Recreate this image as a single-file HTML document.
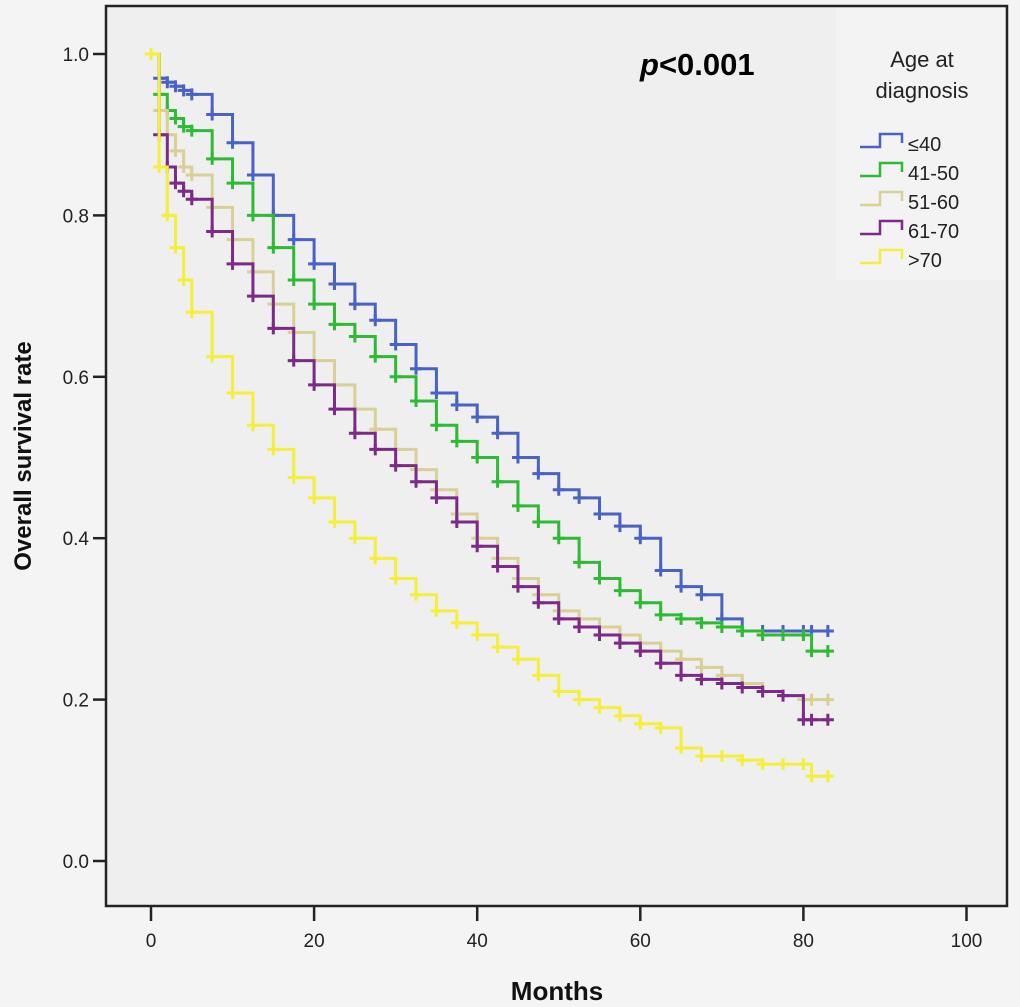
<!DOCTYPE html>
<html><head><meta charset="utf-8"><style>
html,body{margin:0;padding:0;background:#f4f4f4;}
svg{display:block;font-family:"Liberation Sans",sans-serif;}
</style></head><body>
<svg id="chart" width="1020" height="1007" viewBox="0 0 1020 1007">
<rect x="106" y="6" width="901" height="900" fill="#efefef" stroke="#222" stroke-width="2.5"/>
<rect x="836" y="8" width="169" height="272" fill="#f3f3f3"/>
<g id="axes"></g>
<g id="series"></g>
<text x="640" y="75" font-size="31" font-weight="bold" fill="#000"><tspan font-style="italic">p</tspan>&lt;0.001</text>
<text x="922" y="67" font-size="22" text-anchor="middle" fill="#222">Age at</text>
<text x="922" y="98" font-size="22" text-anchor="middle" fill="#222">diagnosis</text>
<g id="legend"></g>
<text x="557" y="1000" font-size="26" font-weight="bold" text-anchor="middle" fill="#111">Months</text>
<text transform="translate(31,456) rotate(-90)" font-size="24" font-weight="bold" text-anchor="middle" fill="#111">Overall survival rate</text>
</svg>
<script>
const months=[0,1,2,3,4,5,7.5,10,12.5,15,17.5,20,22.5,25,27.5,30,32.5,35,37.5,40,42.5,45,47.5,50,52.5,55,57.5,60,62.5,65,67.5,70,72.5,75,77.5,80,81,83];
const s40=[1,.97,.965,.96,.955,.95,.925,.89,.85,.80,.77,.74,.715,.69,.67,.64,.61,.58,.565,.55,.53,.50,.48,.46,.45,.43,.415,.40,.36,.34,.33,.30,.285,.285,.285,.285,.285,.285];
const s4150=[1,.95,.93,.92,.91,.905,.87,.84,.80,.76,.72,.69,.665,.65,.625,.60,.57,.54,.52,.50,.47,.44,.42,.40,.37,.35,.335,.32,.305,.30,.295,.29,.285,.28,.28,.28,.26,.26];
const s5160=[1,.93,.90,.88,.86,.85,.81,.77,.73,.69,.655,.62,.59,.56,.535,.51,.485,.46,.43,.40,.375,.35,.33,.31,.30,.29,.28,.27,.26,.25,.24,.23,.22,.21,.205,.20,.20,.20];
const s6170=[1,.90,.86,.84,.83,.82,.78,.74,.70,.66,.62,.59,.56,.53,.51,.49,.47,.45,.42,.39,.365,.34,.32,.30,.29,.28,.27,.26,.245,.23,.225,.22,.215,.21,.205,.175,.175,.175];
const s70=[1,.86,.80,.76,.72,.68,.625,.58,.54,.51,.475,.45,.42,.40,.375,.35,.33,.31,.295,.28,.265,.25,.23,.21,.20,.19,.18,.17,.165,.14,.13,.13,.125,.12,.12,.12,.105,.105];
const seriesLabels=["≤40","41-50","51-60","61-70",">70"];
const xTicks=[0,20,40,60,80,100];
const yTicks=[0,0.2,0.4,0.6,0.8,1.0];
const NS="http://www.w3.org/2000/svg";
const X=m=>151+m*8.155, Y=v=>861-v*807;
const colors=["#4a62c4","#2fba36","#d8d096","#7c2a88","#f3ef3c"];
const all=[s40,s4150,s5160,s6170,s70];
function mk(t,a,p){const e=document.createElementNS(NS,t);for(const k in a)e.setAttribute(k,a[k]);p.appendChild(e);return e;}
const ax=document.getElementById('axes');
xTicks.forEach(t=>{
 const l=mk('line',{x1:X(t),x2:X(t),y1:906,y2:921,stroke:'#222','stroke-width':2.5},ax);
 
 
 const tx=mk('text',{x:X(t),y:947,'font-size':19,'text-anchor':'middle',fill:'#222'},ax);tx.textContent=t;
 
 
});
yTicks.forEach(t=>{
 const l=mk('line',{x1:93,x2:106,y1:Y(t),y2:Y(t),stroke:'#222','stroke-width':2.5},ax);
 
 
 const tx=mk('text',{x:89,y:Y(t)+7,'font-size':19,'text-anchor':'end',fill:'#222'},ax);tx.textContent=t.toFixed(1);
 
 
});
const sg=document.getElementById('series');
all.forEach((s,i)=>{
 let d='M'+X(months[0])+','+Y(s[0]);
 for(let k=1;k<months.length;k++){d+=' H'+X(months[k])+' V'+Y(s[k]);}
 const p=mk('path',{d:d,fill:'none',stroke:colors[i],'stroke-width':3},sg);
 
 
 for(let k=0;k<months.length;k++){
  const cx=X(months[k]),cy=Y(s[k]);
  const c=mk('path',{d:`M${cx-6},${cy}H${cx+6}M${cx},${cy-6}V${cy+6}`,stroke:colors[i],'stroke-width':3},sg);
  
  
 }
});
const lg=document.getElementById('legend');
seriesLabels.forEach((lab,i)=>{
 const y=147+i*29;
 const p=mk('path',{d:`M860,${y}H880V${y-13}H902V${y-4}`,fill:'none',stroke:colors[i],'stroke-width':2.5},lg);
 
 
 const t=mk('text',{x:908,y:y+4,'font-size':20,fill:'#222'},lg);t.textContent=lab;
 
 
});
</script>
</body></html>
